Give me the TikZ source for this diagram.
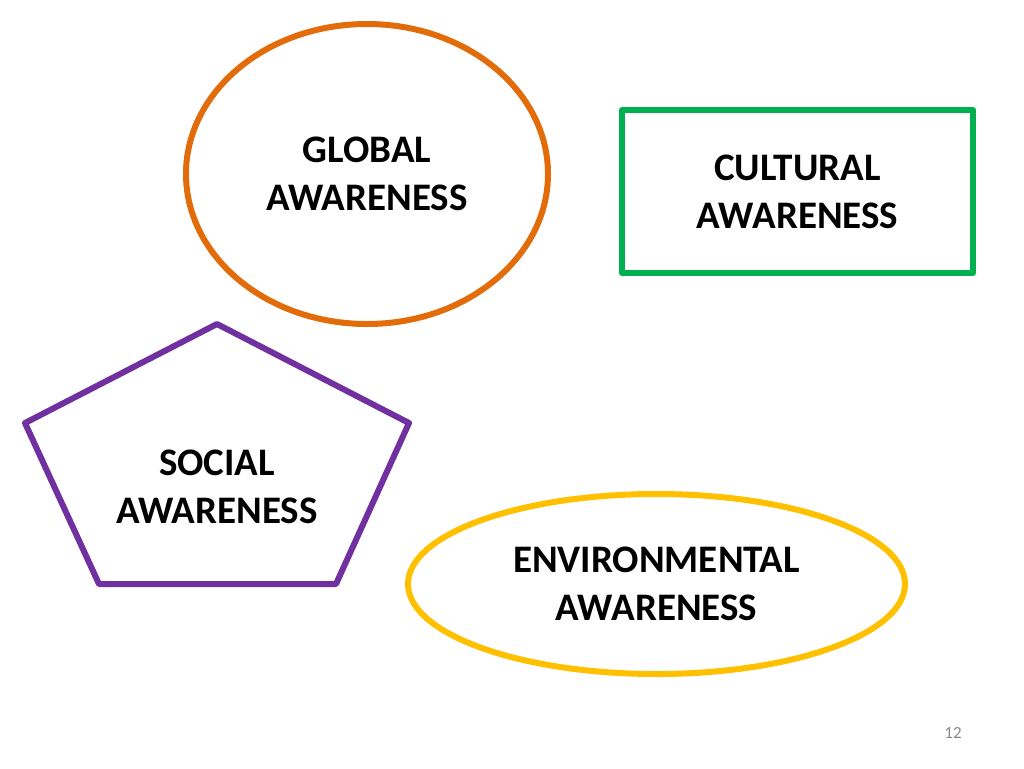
\documentclass[tikz,border=0pt]{standalone}
\usepackage{fontspec}
\setmainfont{Carlito}
\usetikzlibrary{shapes.geometric}
\definecolor{globalorange}{HTML}{E36C0A}
\definecolor{culturalgreen}{HTML}{00B050}
\definecolor{socialpurple}{HTML}{7030A0}
\definecolor{envyellow}{HTML}{FFC000}
\definecolor{pagegray}{HTML}{898989}
\tikzstyle{label}=[font=\bfseries\fontsize{39}{48}\selectfont, align=center, inner sep=0pt]
\tikzstyle{outline}=[line width=6pt, line join=round]

\begin{document}
\begin{tikzpicture}[x=1pt, y=-1pt]
    \useasboundingbox (0,0) rectangle (1024,768);

    % shapes with their labels
    \node[outline, draw=globalorange, ellipse, minimum width=362pt, minimum height=300pt, label] (global) at (367,174) {GLOBAL\\AWARENESS};
    \node[outline, draw=culturalgreen, rectangle, minimum width=351pt, minimum height=163pt, label] (cultural) at (797.5,191.5) {CULTURAL\\AWARENESS};
    \node[outline, draw=envyellow, ellipse, minimum width=497pt, minimum height=180pt, label] (environmental) at (656.5,584) {ENVIRONMENTAL\\AWARENESS};

    % pentagon is not regular, so draw it from its corners
    \foreach \x/\y/\name in {217/324/pa, 409/423/pb, 336/584/pc, 99/584/pd, 25/423/pe}
        \coordinate (\name) at (\x,\y);
    \draw[outline, draw=socialpurple] (pa) -- (pb) -- (pc) -- (pd) -- (pe) -- cycle;
    \node[label] (social) at (217,487) {SOCIAL\\AWARENESS};

    \node[font=\fontsize{17}{20}\selectfont, text=pagegray] (page) at (953,733) {12};
\end{tikzpicture}
\end{document}
